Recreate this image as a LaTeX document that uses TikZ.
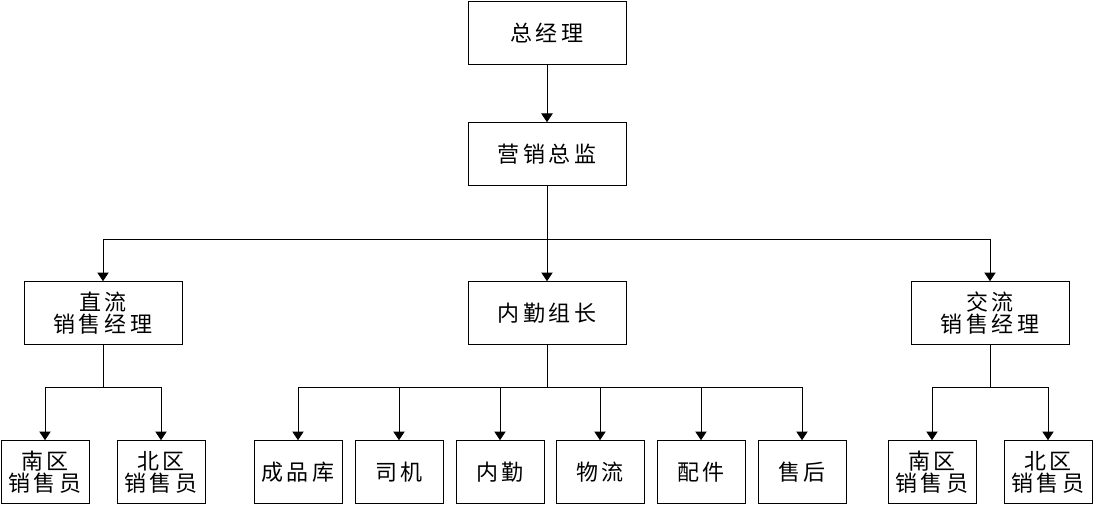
\documentclass[tikz,border=0pt]{standalone}
\usepackage{fontspec}
\newfontfamily\cjkfont[LetterSpace=18]{Noto Sans CJK SC}
\usetikzlibrary{arrows.meta}

\tikzset{every picture/.style={line width=0.75pt}}
\tikzset{
  bigbox/.style={draw, minimum width=118.5pt, minimum height=47pt, align=center,
    font=\cjkfont\fontsize{16.5}{16.5}\selectfont},
  smallbox/.style={bigbox, minimum width=66pt},
  link/.style={-{Triangle[width=8.5pt,length=6.5pt]}}
}

\begin{document}
\begin{tikzpicture}[x=0.75pt,y=0.75pt,yscale=-1,xscale=1]
\useasboundingbox (0,0) rectangle (1094,506);

% top
\node[bigbox] (zjl) at (547,33) {总经理};
\node[bigbox] (yxzj) at (547,154) {营销总监};

% middle row
\node[bigbox] (zlxs) at (103,313) {直流\\销售经理};
\node[bigbox] (nqzz) at (547,313) {内勤组长};
\node[bigbox] (jlxs) at (990,313) {交流\\销售经理};

% bottom row
\node[smallbox] (nqa) at (45,472) {南区\\销售员};
\node[smallbox] (bqa) at (161,472) {北区\\销售员};
\node[smallbox] (cpk) at (298,472) {成品库};
\node[smallbox] (sj) at (399,472) {司机};
\node[smallbox] (nq) at (500,472) {内勤};
\node[smallbox] (wl) at (600,472) {物流};
\node[smallbox] (pj) at (701,472) {配件};
\node[smallbox] (sh) at (802,472) {售后};
\node[smallbox] (nqb) at (932,472) {南区\\销售员};
\node[smallbox] (bqb) at (1048,472) {北区\\销售员};

% bus points
\coordinate (busa) at (547,239);
\coordinate (busb) at (103,387);
\coordinate (busc) at (547,387);
\coordinate (busd) at (990,387);

% connectors
\draw[link] (zjl) -- (yxzj);
\draw[link] (yxzj) -- (nqzz);
\draw[link] (busa) -| (zlxs.north);
\draw[link] (busa) -| (jlxs.north);

\draw (zlxs) -- (busb);
\draw[link] (busb) -| (nqa.north);
\draw[link] (busb) -| (bqa.north);

\draw (nqzz) -- (busc);
\foreach \n in {cpk,sj,nq,wl,pj,sh}
  \draw[link] (busc) -| (\n.north);

\draw (jlxs) -- (busd);
\draw[link] (busd) -| (nqb.north);
\draw[link] (busd) -| (bqb.north);

\end{tikzpicture}
\end{document}
